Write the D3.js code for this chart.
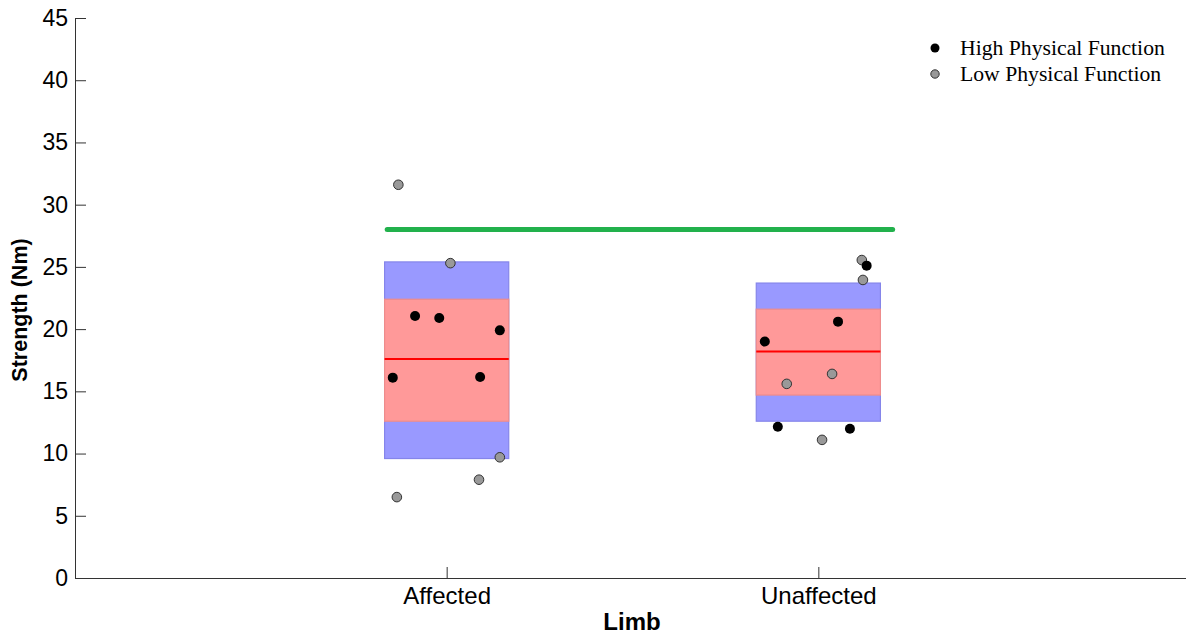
<!DOCTYPE html>
<html lang="en">
<head>
<meta charset="UTF-8">
<title>Strength by Limb</title>
<script src="https://d3js.org/d3.v7.min.js"></script>
<style>
  body { margin: 0; background: #fff; }
  svg { display: block; }
  .axis path, .axis line { stroke: #333; }
  .axis text { font-family: "Liberation Sans", Arial, sans-serif; font-size: 23px; fill: #000; }
  .x.axis text { font-size: 24px; }
</style>
</head>
<body>
<svg id="chart" width="1186" height="634"></svg>
<script>
// categories and box summaries
var limbs = ["Affected", "Unaffected"];
var outerHigh = [25.4, 23.7];
var innerHigh = [22.4, 21.6];
var medians = [17.6, 18.2];
var innerLow = [12.6, 14.7];
var outerLow = [9.6, 12.6];
var referenceValue = 28.0;

// individual subjects: limb index, jitter (in category units), strength
var highLimb = [0, 0, 0, 0, 0, 1, 1, 1, 1, 1];
var highJitter = [-0.085, -0.02, 0.143, -0.145, 0.09, 0.13, 0.053, -0.144, -0.109, 0.085];
var highValue = [21.05, 20.9, 19.9, 16.1, 16.15, 25.1, 20.6, 19.0, 12.15, 12.0];

var lowLimb = [0, 0, 0, 0, 0, 1, 1, 1, 1, 1];
var lowJitter = [-0.13, 0.01, 0.143, 0.087, -0.134, 0.117, 0.12, -0.085, 0.037, 0.01];
var lowValue = [31.6, 25.3, 9.7, 7.9, 6.5, 25.55, 23.95, 15.6, 16.4, 11.1];

var yTicks = [0, 5, 10, 15, 20, 25, 30, 35, 40, 45];

var svg = d3.select("#chart");

var x = d3.scaleLinear().domain([0, 3]).range([75, 1190]);
var y = d3.scaleLinear().domain([0, 45]).range([578, 18]);
var halfBox = 0.167;

// y axis
svg.append("g")
  .attr("class", "y axis")
  .attr("transform", "translate(" + x(0) + ",0)")
  .call(d3.axisLeft(y).tickValues(yTicks).tickSizeInner(-11).tickSizeOuter(0).tickPadding(7));

// x axis
svg.append("g")
  .attr("class", "x axis")
  .attr("transform", "translate(0," + y(0) + ")")
  .call(d3.axisBottom(x).tickValues([1, 2])
    .tickFormat(function(d) { return limbs[d - 1]; })
    .tickSizeInner(-11).tickSizeOuter(0).tickPadding(9));

// boxes
var boxes = svg.append("g");
limbs.forEach(function(name, i) {
  var cx = i + 1;
  boxes.append("rect")
    .attr("x", x(cx - halfBox))
    .attr("width", x(cx + halfBox) - x(cx - halfBox))
    .attr("y", y(outerHigh[i]))
    .attr("height", y(outerLow[i]) - y(outerHigh[i]))
    .attr("fill", "#9999ff")
    .attr("stroke", "#8585ea")
    .attr("stroke-width", 1.2);
  boxes.append("rect")
    .attr("x", x(cx - halfBox))
    .attr("width", x(cx + halfBox) - x(cx - halfBox))
    .attr("y", y(innerHigh[i]))
    .attr("height", y(innerLow[i]) - y(innerHigh[i]))
    .attr("fill", "#ff9999")
    .attr("stroke", "#ee8c8c")
    .attr("stroke-width", 1.2);
  boxes.append("line")
    .attr("x1", x(cx - halfBox))
    .attr("x2", x(cx + halfBox))
    .attr("y1", y(medians[i]))
    .attr("y2", y(medians[i]))
    .attr("stroke", "#ff0000")
    .attr("stroke-width", 2);
});

// reference line
svg.append("line")
  .attr("x1", x(0.84))
  .attr("x2", x(2.2))
  .attr("y1", y(referenceValue))
  .attr("y2", y(referenceValue))
  .attr("stroke", "#22b14c")
  .attr("stroke-width", 5)
  .attr("stroke-linecap", "round");

// points
var pts = svg.append("g");
lowValue.forEach(function(v, i) {
  pts.append("circle")
    .attr("cx", x(lowLimb[i] + 1 + lowJitter[i]))
    .attr("cy", y(v))
    .attr("r", 4.8)
    .attr("fill", "#999")
    .attr("stroke", "#333")
    .attr("stroke-width", 1);
});
highValue.forEach(function(v, i) {
  pts.append("circle")
    .attr("cx", x(highLimb[i] + 1 + highJitter[i]))
    .attr("cy", y(v))
    .attr("r", 5)
    .attr("fill", "#000");
});

// legend
var legend = svg.append("g");
var legendItems = ["High Physical Function", "Low Physical Function"];
legendItems.forEach(function(label, i) {
  var ly = 48 + i * 26;
  legend.append("circle")
    .attr("cx", 935).attr("cy", ly)
    .attr("r", i === 0 ? 4.5 : 4.2)
    .attr("fill", i === 0 ? "#000" : "#999")
    .attr("stroke", i === 0 ? "none" : "#333")
    .attr("stroke-width", 1);
  legend.append("text")
    .attr("x", 960).attr("y", ly + 7)
    .style("font-family", "'Liberation Serif', 'Times New Roman', serif")
    .style("font-size", "21.7px")
    .text(label);
});

// axis titles
svg.append("text")
  .attr("transform", "translate(27,310) rotate(-90)")
  .attr("text-anchor", "middle")
  .style("font-family", "'Liberation Sans', Arial, sans-serif")
  .style("font-weight", "bold")
  .style("font-size", "21.5px")
  .text("Strength (Nm)");

svg.append("text")
  .attr("x", 632).attr("y", 630)
  .attr("text-anchor", "middle")
  .style("font-family", "'Liberation Sans', Arial, sans-serif")
  .style("font-weight", "bold")
  .style("font-size", "24px")
  .text("Limb");
</script>
</body>
</html>
